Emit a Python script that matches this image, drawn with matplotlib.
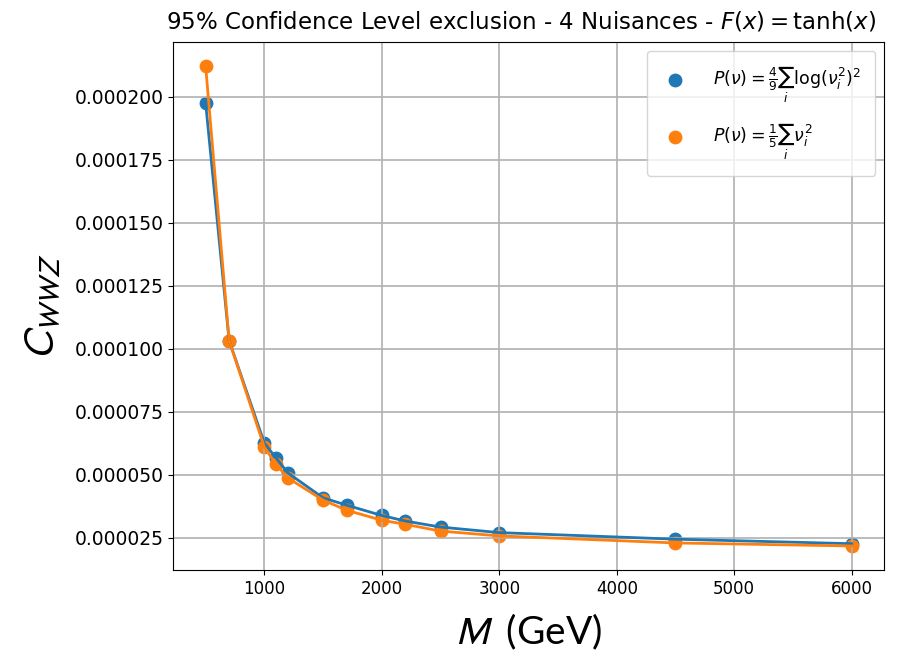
import matplotlib
matplotlib.use("Agg")
import matplotlib.pyplot as plt

# masses (GeV)
masses = [500, 700, 1000, 1100, 1200, 1500, 1700, 2000, 2200, 2500, 3000, 4500, 6000]

# 95% CL limits on C_WWZ for the two priors
c_log = [197.6e-6, 103.3e-6, 62.6e-6, 56.7e-6, 50.8e-6, 40.9e-6, 38.0e-6,
         33.9e-6, 31.7e-6, 29.3e-6, 27.1e-6, 24.5e-6, 22.7e-6]
c_quad = [212.3e-6, 103.3e-6, 61.0e-6, 54.2e-6, 48.8e-6, 40.0e-6, 36.0e-6,
          32.0e-6, 30.4e-6, 27.7e-6, 25.8e-6, 23.0e-6, 21.8e-6]

labels = [r"$P(\nu) = \frac{4}{9}\sum_i \log(\nu_i^2)^2$",
          r"$P(\nu) = \frac{1}{5}\sum_i \nu_i^2$"]

fig = plt.figure(figsize=(8.99, 6.6), dpi=100)
ax = fig.add_axes([0.1928, 0.1364, 0.7905, 0.8])

ax.plot(masses, c_log, color="C0", linewidth=2)
ax.scatter(masses, c_log, color="C0", s=80, label=labels[0])
ax.plot(masses, c_quad, color="C1", linewidth=2)
ax.scatter(masses, c_quad, color="C1", s=80, label=labels[1])

ax.grid(True, color="#b0b0b0", linewidth=1.2)
ax.tick_params(axis="x", labelsize=12)
ax.tick_params(axis="y", labelsize=13.5)
ax.set_title(r"95% Confidence Level exclusion - 4 Nuisances - $F(x) = \tanh(x)$",
             fontsize=16.5, pad=10, x=0.49)
ax.set_xlabel(r"$M\;$ (GeV)", fontsize=28, family="Lato", labelpad=10,
              math_fontfamily="stixsans")
ax.set_ylabel(r"$C_{WWZ}$", fontsize=30, labelpad=8, math_fontfamily="stixsans")
ax.legend(loc="upper right", fontsize=12.5, labelspacing=1.0, borderpad=0.8,
          handletextpad=1.4, handlelength=1.6)

fig.savefig("out.png", dpi=100)
